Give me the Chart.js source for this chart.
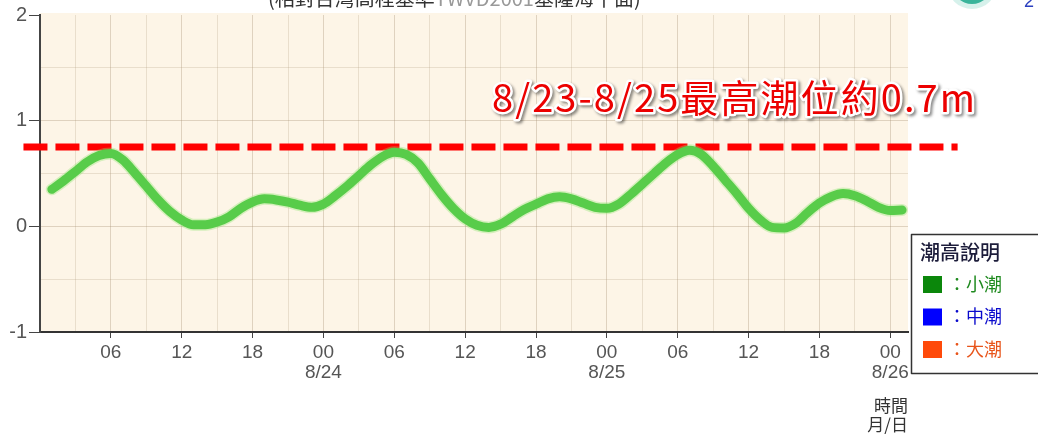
<!DOCTYPE html>
<html>
<head>
<meta charset="utf-8">
<script src="https://cdn.jsdelivr.net/npm/chart.js@4.4.1/dist/chart.umd.min.js"></script>
<style>
  html, body { margin: 0; padding: 0; background: #fff; }
  #wrap { width: 1038px; height: 434px; }
</style>
</head>
<body>
<div id="wrap"><canvas id="tide" width="1038" height="434"></canvas></div>
<script>
// hours counted from 8/23 00:00 (one reading per hour, 01 .. 73)
const HOURS = [1, 2, 3, 4, 5, 6, 7, 8, 9, 10, 11, 12, 13, 14, 15, 16, 17, 18, 19, 20, 21, 22, 23, 24,
               25, 26, 27, 28, 29, 30, 31, 32, 33, 34, 35, 36, 37, 38, 39, 40, 41, 42, 43, 44, 45, 46, 47, 48,
               49, 50, 51, 52, 53, 54, 55, 56, 57, 58, 59, 60, 61, 62, 63, 64, 65, 66, 67, 68, 69, 70, 71, 72, 73];
// tide height in metres
const TIDE = [0.35, 0.43, 0.52, 0.61, 0.67, 0.69, 0.63, 0.51, 0.38, 0.25, 0.14, 0.06, 0.015, 0.015, 0.04, 0.09, 0.17, 0.23, 0.26, 0.25, 0.23, 0.20, 0.18, 0.21,
              0.29, 0.38, 0.48, 0.58, 0.66, 0.70, 0.68, 0.60, 0.45, 0.30, 0.17, 0.07, 0.01, -0.01, 0.02, 0.09, 0.16, 0.21, 0.26, 0.28, 0.26, 0.22, 0.18, 0.17,
              0.21, 0.30, 0.40, 0.50, 0.60, 0.68, 0.72, 0.68, 0.57, 0.44, 0.31, 0.17, 0.06, -0.01, -0.015, 0.03, 0.13, 0.22, 0.28, 0.31, 0.29, 0.24, 0.18, 0.15, 0.155];

// red dashed "max tide" line
const MAX_LINE_HOURS = [-1.4, 77.7];
const MAX_LINE_LEVEL = 0.75;
const NOTE_TEXT = "8/23-8/25最高潮位約0.7m";

const X_TICKS = [6, 12, 18, 24, 30, 36, 42, 48, 54, 60, 66, 72];
const X_HOUR_LABELS = ["06", "12", "18", "00", "06", "12", "18", "00", "06", "12", "18", "00"];
const X_DATE_LABELS = ["", "", "", "8/24", "", "", "", "8/25", "", "", "", "8/26"];
const Y_TICKS = [-1, 0, 1, 2];

const LEGEND_TITLE = "潮高說明";
const LEGEND_LABELS = ["：小潮", "：中潮", "：大潮"];
const LEGEND_BOX_COLORS = ["#0b870b", "#0000ff", "#ff4a0a"];
const LEGEND_TEXT_COLORS = ["#1f8a1f", "#0a0acc", "#e8541a"];

const TOP_TITLE = ["(相對台灣高程基準", "TWVD2001", "基隆海平面)"];

const TICK_FONT = "'Liberation Sans Narrow', 'Arial Narrow', Arial, sans-serif";
const CJK_FONT = "'Noto Sans CJK TC', 'Noto Sans CJK SC', sans-serif";

const GRID = "rgba(175,155,125,0.25)";
const GRID_MAJOR = "rgba(165,145,115,0.34)";

// ---------------------------------------------------------------------------
// plot background + text overlays
// ---------------------------------------------------------------------------
const decor = {
  id: "decor",
  beforeDraw(chart) {
    const { ctx, chartArea: a } = chart;
    ctx.save();
    ctx.fillStyle = "#fdf5e7";
    ctx.fillRect(a.left, a.top - 2, a.right - a.left, a.bottom - a.top + 2);
    ctx.restore();
  },
  afterDraw(chart) {
    const ctx = chart.ctx;
    ctx.save();

    // cut-off title at the very top
    ctx.font = "20px " + CJK_FONT;
    ctx.textBaseline = "alphabetic";
    let x = 268;
    const cols = ["#333", "#999", "#333"];
    TOP_TITLE.forEach((t, i) => {
      ctx.fillStyle = cols[i];
      ctx.fillText(t, x, 6);
      x += ctx.measureText(t).width;
    });

    // cut-off icon, top right
    ctx.fillStyle = "rgba(120,210,190,0.3)";
    ctx.beginPath(); ctx.arc(972, -16, 25, 0, Math.PI * 2); ctx.fill();
    ctx.fillStyle = "#39b49a";
    ctx.beginPath(); ctx.arc(972, -16, 20, 0, Math.PI * 2); ctx.fill();
    ctx.fillStyle = "#2a3fbf";
    ctx.font = "18px Arial, sans-serif";
    ctx.fillText("2", 1024, 7);

    // red annotation
    const yS = chart.scales.y;
    ctx.font = "38px " + CJK_FONT;
    const w = ctx.measureText(NOTE_TEXT).width;
    ctx.letterSpacing = ((483 - w) / (NOTE_TEXT.length - 1)).toFixed(2) + "px";
    const ny = yS.getPixelForValue(MAX_LINE_LEVEL) - 35;
    ctx.shadowColor = "rgba(0,0,0,0.45)";
    ctx.shadowOffsetX = 2; ctx.shadowOffsetY = 2; ctx.shadowBlur = 3;
    ctx.lineJoin = "round";
    ctx.strokeStyle = "#fff";
    ctx.lineWidth = 5;
    ctx.strokeText(NOTE_TEXT, 492, ny);
    ctx.shadowColor = "transparent";
    ctx.fillStyle = "#ec0000";
    ctx.fillText(NOTE_TEXT, 492, ny);
    ctx.letterSpacing = "0px";

    // legend box
    ctx.fillStyle = "#fff";
    ctx.fillRect(911.5, 234.5, 140, 139);
    ctx.strokeStyle = "#333";
    ctx.lineWidth = 1.5;
    ctx.strokeRect(911.5, 234.5, 140, 139);
    ctx.textBaseline = "middle";
    ctx.font = "500 20px " + CJK_FONT;
    ctx.fillStyle = "#1c1c3a";
    ctx.fillText(LEGEND_TITLE, 920, 252);
    ctx.font = "18px " + CJK_FONT;
    LEGEND_LABELS.forEach((lab, i) => {
      const cy = 284 + i * 32.5;
      ctx.fillStyle = LEGEND_BOX_COLORS[i];
      ctx.fillRect(923, cy - 8, 19, 17);
      ctx.fillStyle = LEGEND_TEXT_COLORS[i];
      ctx.fillText(lab, 948, cy);
    });

    ctx.restore();
  },
};

const points = HOURS.map((h, i) => ({ x: h, y: TIDE[i] }));

new Chart(document.getElementById("tide"), {
  type: "line",
  data: {
    datasets: [
      {
        data: points,
        borderColor: "rgba(140,230,110,0.35)",
        borderWidth: 12,
        pointRadius: 0,
        cubicInterpolationMode: "monotone",
        borderCapStyle: "round",
      },
      {
        data: points,
        borderColor: "#3cbf38",
        borderWidth: 9,
        pointRadius: 0,
        cubicInterpolationMode: "monotone",
        borderCapStyle: "round",
      },
      {
        data: MAX_LINE_HOURS.map((h) => ({ x: h, y: MAX_LINE_LEVEL })),
        borderColor: "#ff0000",
        borderWidth: 7,
        borderDash: [24, 8],
        borderCapStyle: "butt",
        pointRadius: 0,
        clip: false,
      },
    ],
  },
  options: {
    responsive: false,
    animation: false,
    devicePixelRatio: 1,
    layout: { padding: { top: 15, right: 130, left: 0, bottom: 0 } },
    plugins: {
      legend: { display: false },
      tooltip: { enabled: false },
    },
    scales: {
      x: {
        type: "linear",
        min: 0,
        max: 73.5,
        afterBuildTicks: (s) => {
          const t = [];
          for (let h = 0; h <= 72; h += 3) t.push({ value: h });
          s.ticks = t;
        },
        afterFit: (s) => { s.height = 102; },
        grid: {
          color: (c) => (c.tick.value % 6 === 0 ? GRID_MAJOR : GRID),
          tickLength: 6,
          tickColor: (c) => (X_TICKS.includes(c.tick.value) ? "#444" : "transparent"),
        },
        border: { color: "#333", width: 2 },
        ticks: {
          autoSkip: false,
          maxRotation: 0,
          padding: 5,
          color: "#555",
          font: { family: TICK_FONT, size: 19, lineHeight: 1.03 },
          callback: (v) => {
            const i = X_TICKS.indexOf(v);
            if (i < 0) return "";
            return X_DATE_LABELS[i] ? [X_HOUR_LABELS[i], X_DATE_LABELS[i]] : X_HOUR_LABELS[i];
          },
        },
        title: {
          display: true,
          text: ["時間", "月/日"],
          align: "end",
          color: "#333",
          font: { family: CJK_FONT, size: 17, lineHeight: 1.1 },
          padding: { top: 0, bottom: 0 },
        },
      },
      y: {
        min: -1,
        max: 2,
        afterFit: (s) => { s.width = 40; },
        grid: {
          color: (c) => (c.tick.value === 2 ? "transparent" : Number.isInteger(c.tick.value) ? GRID_MAJOR : GRID),
          tickLength: 11,
          tickColor: (c) => (Y_TICKS.includes(c.tick.value) ? "#444" : "transparent"),
        },
        border: { color: "#444", width: 2 },
        ticks: {
          stepSize: 0.5,
          padding: 2,
          color: "#555",
          font: { family: TICK_FONT, size: 20 },
          callback: (v) => (Y_TICKS.includes(v) ? String(v) : ""),
        },
      },
    },
  },
  plugins: [decor],
});
</script>
</body>
</html>
